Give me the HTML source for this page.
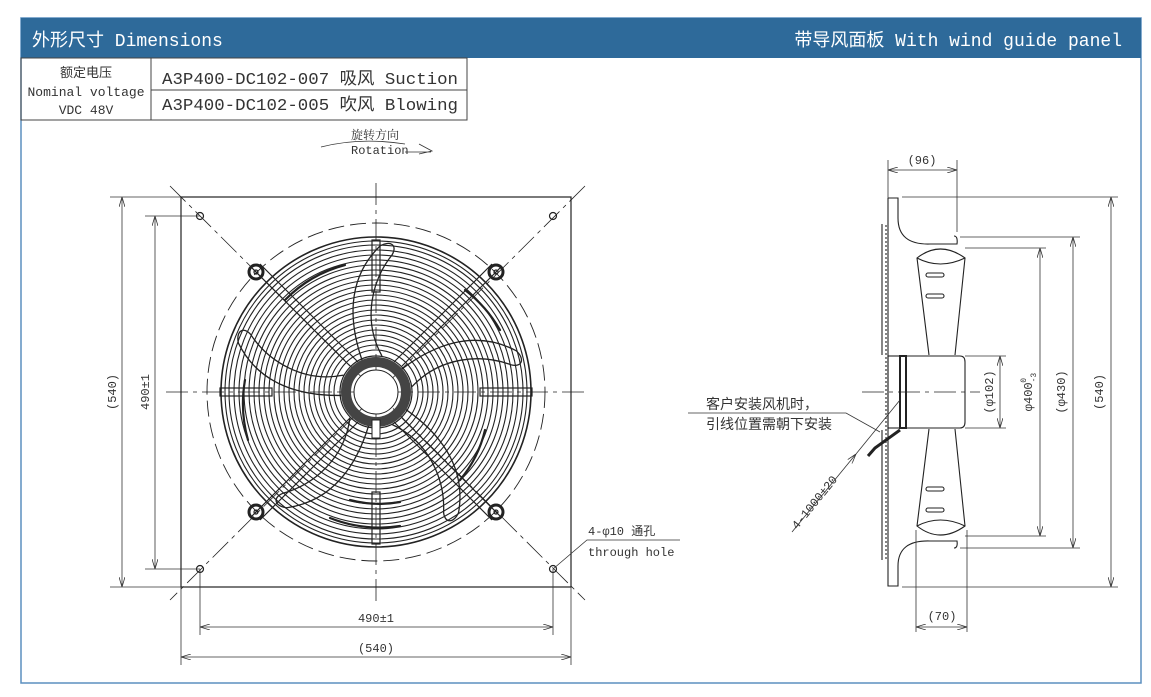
<!DOCTYPE html>
<html><head><meta charset="utf-8"><style>
html,body{margin:0;padding:0;background:#fff;}
svg{display:block;}
text{font-family:"Liberation Mono","Noto Sans CJK SC",monospace;}
.c{font-family:"Liberation Serif","Noto Serif CJK SC",serif;}
</style></head><body>
<svg width="1151" height="697" viewBox="0 0 1151 697" xmlns="http://www.w3.org/2000/svg">
<defs>
<marker id="a" viewBox="0 0 10 6" refX="10" refY="3" markerWidth="10" markerHeight="6" orient="auto-start-reverse" markerUnits="userSpaceOnUse"><path d="M0,0 L10,3 L0,6" fill="none" stroke="#333" stroke-width="0.8"/></marker>
</defs>
<rect x="21" y="18" width="1120" height="665" fill="none" stroke="#5b8fbf" stroke-width="1.5"/>
<rect x="21" y="18" width="1120" height="40" fill="#2e6a9a"/>
<text x="32" y="46" fill="#fff" font-size="18">外形尺寸 Dimensions</text>
<text x="1122" y="46" fill="#fff" font-size="18" text-anchor="end">带导风面板 With wind guide panel</text>
<g stroke="#444" stroke-width="1" fill="none">
<rect x="21" y="58" width="446" height="62"/>
<line x1="151" y1="58" x2="151" y2="120"/>
<line x1="151" y1="90" x2="467" y2="90"/>
</g>
<g font-size="13" fill="#333" class="c" text-anchor="middle">
<text x="86" y="77">额定电压</text>
<text x="86" y="96" style="font-family:'Liberation Mono',monospace">Nominal voltage</text>
<text x="86" y="114" style="font-family:'Liberation Mono',monospace">VDC 48V</text>
</g>
<text x="162" y="84" font-size="17" fill="#333" textLength="296" lengthAdjust="spacingAndGlyphs">A3P400-DC102-007 吸风 Suction</text>
<text x="162" y="110" font-size="17" fill="#333" textLength="296" lengthAdjust="spacingAndGlyphs">A3P400-DC102-005 吹风 Blowing</text>
<text x="351" y="139" font-size="12" fill="#333" class="c">旋转方向</text>
<text x="351" y="154" font-size="12" fill="#333">Rotation</text>
<path d="M321,147 Q360,137 405,144" fill="none" stroke="#333" stroke-width="0.8"/>
<path d="M405,152 L431,152 M419,144 L432,151 L419,154" fill="none" stroke="#333" stroke-width="0.8"/>

<g stroke="#222" fill="none">
<rect x="181" y="197" width="390" height="390" stroke-width="1.2"/>
<g stroke-width="0.8" stroke-dasharray="22,5,4,5">
<line x1="170" y1="186" x2="585" y2="600"/>
<line x1="585" y1="186" x2="170" y2="600"/>
<line x1="376" y1="183" x2="376" y2="603"/>
<line x1="166" y1="392" x2="586" y2="392"/>
</g>
<circle cx="376" cy="392" r="169" stroke-width="0.9" stroke-dasharray="16,6"/>
<g stroke-width="1.1">
<circle cx="376" cy="392" r="155" stroke-width="1.6"/>
<circle cx="376" cy="392" r="151"/><circle cx="376" cy="392" r="147"/><circle cx="376" cy="392" r="142"/>
<circle cx="376" cy="392" r="137"/><circle cx="376" cy="392" r="132"/><circle cx="376" cy="392" r="127"/>
<circle cx="376" cy="392" r="122"/><circle cx="376" cy="392" r="117"/><circle cx="376" cy="392" r="112"/>
<circle cx="376" cy="392" r="107"/><circle cx="376" cy="392" r="102"/><circle cx="376" cy="392" r="97"/>
<circle cx="376" cy="392" r="92"/><circle cx="376" cy="392" r="87"/><circle cx="376" cy="392" r="82"/>
<circle cx="376" cy="392" r="77"/><circle cx="376" cy="392" r="72"/><circle cx="376" cy="392" r="67"/>
<circle cx="376" cy="392" r="62"/><circle cx="376" cy="392" r="57"/><circle cx="376" cy="392" r="52"/>
<circle cx="376" cy="392" r="47"/><circle cx="376" cy="392" r="42"/>
</g>
<circle cx="376" cy="392" r="30" stroke-width="10" stroke="#444"/>
<circle cx="376" cy="392" r="36" stroke-width="1.2"/>
<circle cx="376" cy="392" r="22" fill="#fff" stroke-width="1"/>
<g stroke-width="1.2">
<path d="M252,268 L350,366 M260,264 L358,362"/>
<path d="M500,268 L402,366 M492,264 L394,362"/>
<path d="M252,516 L350,418 M260,520 L358,422"/>
<path d="M500,516 L402,418 M492,520 L394,422"/>
<rect x="372" y="240" width="8" height="52"/>
<rect x="372" y="492" width="8" height="52"/>
<rect x="220" y="388" width="52" height="8"/>
<rect x="480" y="388" width="52" height="8"/>
</g>
<g stroke-width="1.3" id="bl">
<path d="M382,356 C362,320 372,280 392,255 C398,245 390,240 380,246 C345,280 350,325 362,360"/>
</g>
<use href="#bl" transform="rotate(72 376 392)"/>
<use href="#bl" transform="rotate(144 376 392)"/>
<use href="#bl" transform="rotate(216 376 392)"/>
<use href="#bl" transform="rotate(288 376 392)"/>
<g stroke-width="2.2" stroke-linecap="round">
<path d="M285,300 A130,130 0 0 1 345,265"/>
<path d="M465,290 A135,135 0 0 1 500,330"/>
<path d="M485,430 A120,120 0 0 1 460,480"/>
<path d="M350,500 A115,115 0 0 0 400,502"/>
<path d="M330,518 A135,135 0 0 0 400,526"/>
<path d="M248,440 A135,135 0 0 1 245,380"/>
</g>
<rect x="372" y="420" width="8" height="18" fill="#fff" stroke-width="1"/>
<g stroke-width="1.2">
<circle cx="256" cy="272" r="7" stroke-width="3"/><circle cx="256" cy="272" r="2"/>
<circle cx="496" cy="272" r="7" stroke-width="3"/><circle cx="496" cy="272" r="2"/>
<circle cx="256" cy="512" r="7" stroke-width="3"/><circle cx="256" cy="512" r="2"/>
<circle cx="496" cy="512" r="7" stroke-width="3"/><circle cx="496" cy="512" r="2"/>
<circle cx="200" cy="216" r="3.5"/><circle cx="553" cy="216" r="3.5"/>
<circle cx="200" cy="569" r="3.5"/><circle cx="553" cy="569" r="3.5"/>
</g>
<g stroke="#333" stroke-width="0.8">
<line x1="110" y1="197" x2="181" y2="197"/><line x1="110" y1="587" x2="181" y2="587"/>
<line x1="122" y1="197" x2="122" y2="587" marker-start="url(#a)" marker-end="url(#a)"/>
<line x1="145" y1="216" x2="200" y2="216"/><line x1="145" y1="569" x2="200" y2="569"/>
<line x1="155" y1="216" x2="155" y2="569" marker-start="url(#a)" marker-end="url(#a)"/>
<line x1="200" y1="569" x2="200" y2="635"/><line x1="553" y1="569" x2="553" y2="635"/>
<line x1="200" y1="627" x2="553" y2="627" marker-start="url(#a)" marker-end="url(#a)"/>
<line x1="181" y1="587" x2="181" y2="665"/><line x1="571" y1="587" x2="571" y2="665"/>
<line x1="181" y1="657" x2="571" y2="657" marker-start="url(#a)" marker-end="url(#a)"/>
<path d="M553,569 L587,540 L680,540"/>
</g>
</g>
<g font-size="12" fill="#333" class="c">
<text transform="translate(116,392) rotate(-90)" text-anchor="middle">(540)</text>
<text transform="translate(149,392) rotate(-90)" text-anchor="middle">490±1</text>
<text x="376" y="622" text-anchor="middle">490±1</text>
<text x="376" y="652" text-anchor="middle">(540)</text>
<text x="588" y="535">4-φ10 通孔</text>
<text x="588" y="556">through hole</text>
</g>

<g stroke="#222" fill="none" stroke-width="1.1">
<path d="M888,198 L898,198 L898,218 Q898,245 930,244 L957,244 Q958,236 954,236"/>
<path d="M888,198 L888,586 L898,586 L898,566 Q898,540 930,541 L957,541 Q958,548 954,548"/>
<line x1="882" y1="224" x2="882" y2="355"/><line x1="882" y1="430" x2="882" y2="560"/>
<line x1="886" y1="225" x2="886" y2="560" stroke-dasharray="2,2"/>
<rect x="888" y="356" width="12" height="72"/>
<rect x="900" y="356" width="6" height="72" stroke-width="2"/>
<path d="M906,356 L960,356 Q965,356 965,362 L965,422 Q965,428 960,428 L906,428"/>
<path d="M929,355 L917,258 Q940,240 965,258 L955,355"/>
<path d="M929,429 L917,526 Q940,544 965,526 L955,429"/>
<path d="M917,258 Q940,270 965,258"/>
<path d="M917,526 Q940,514 965,526"/>
<rect x="926" y="273" width="18" height="4" rx="2"/><rect x="926" y="294" width="18" height="4" rx="2"/>
<rect x="926" y="487" width="18" height="4" rx="2"/><rect x="926" y="508" width="18" height="4" rx="2"/>
<line x1="862" y1="392" x2="980" y2="392" stroke-width="0.8" stroke-dasharray="22,5,4,5"/>
<path d="M900,430 L875,448 L868,456" stroke-width="3"/>
</g>
<g stroke="#333" stroke-width="0.8" fill="none">
<line x1="888" y1="160" x2="888" y2="198"/><line x1="957" y1="160" x2="957" y2="232"/>
<line x1="888" y1="170" x2="957" y2="170" marker-start="url(#a)" marker-end="url(#a)"/>
<line x1="902" y1="197" x2="1118" y2="197"/><line x1="902" y1="587" x2="1118" y2="587"/>
<line x1="1111" y1="197" x2="1111" y2="587" marker-start="url(#a)" marker-end="url(#a)"/>
<line x1="960" y1="237" x2="1080" y2="237"/><line x1="960" y1="548" x2="1080" y2="548"/>
<line x1="1073" y1="237" x2="1073" y2="548" marker-start="url(#a)" marker-end="url(#a)"/>
<line x1="965" y1="248" x2="1046" y2="248"/><line x1="965" y1="536" x2="1046" y2="536"/>
<line x1="1040" y1="248" x2="1040" y2="536" marker-start="url(#a)" marker-end="url(#a)"/>
<line x1="965" y1="356" x2="1006" y2="356"/><line x1="965" y1="428" x2="1006" y2="428"/>
<line x1="1000" y1="356" x2="1000" y2="428" marker-start="url(#a)" marker-end="url(#a)"/>
<line x1="916" y1="530" x2="916" y2="632"/><line x1="967" y1="530" x2="967" y2="632"/>
<line x1="916" y1="627" x2="967" y2="627" marker-start="url(#a)" marker-end="url(#a)"/>
<path d="M688,413 L846,413 L880,432"/>
<line x1="792" y1="532" x2="856" y2="454" marker-end="url(#a)"/>
<line x1="856" y1="454" x2="900" y2="400"/>
</g>
<g font-size="12" fill="#333" class="c">
<text x="922" y="164" text-anchor="middle">(96)</text>
<text x="942" y="620" text-anchor="middle">(70)</text>
<text transform="translate(1103,392) rotate(-90)" text-anchor="middle">(540)</text>
<text transform="translate(1065,392) rotate(-90)" text-anchor="middle">(φ430)</text>
<text transform="translate(1032,392) rotate(-90)" text-anchor="middle">φ400<tspan font-size="8" dy="4">-3</tspan><tspan font-size="8" dx="-10" dy="-10">0</tspan></text>
<text transform="translate(993,392) rotate(-90)" text-anchor="middle">(φ102)</text>
<text x="706" y="409" font-size="14">客户安装风机时，</text>
<text x="706" y="429" font-size="14">引线位置需朝下安装</text>
<text transform="translate(797,530) rotate(-51)">4-1000±20</text>
</g>
</svg>
</body></html>
